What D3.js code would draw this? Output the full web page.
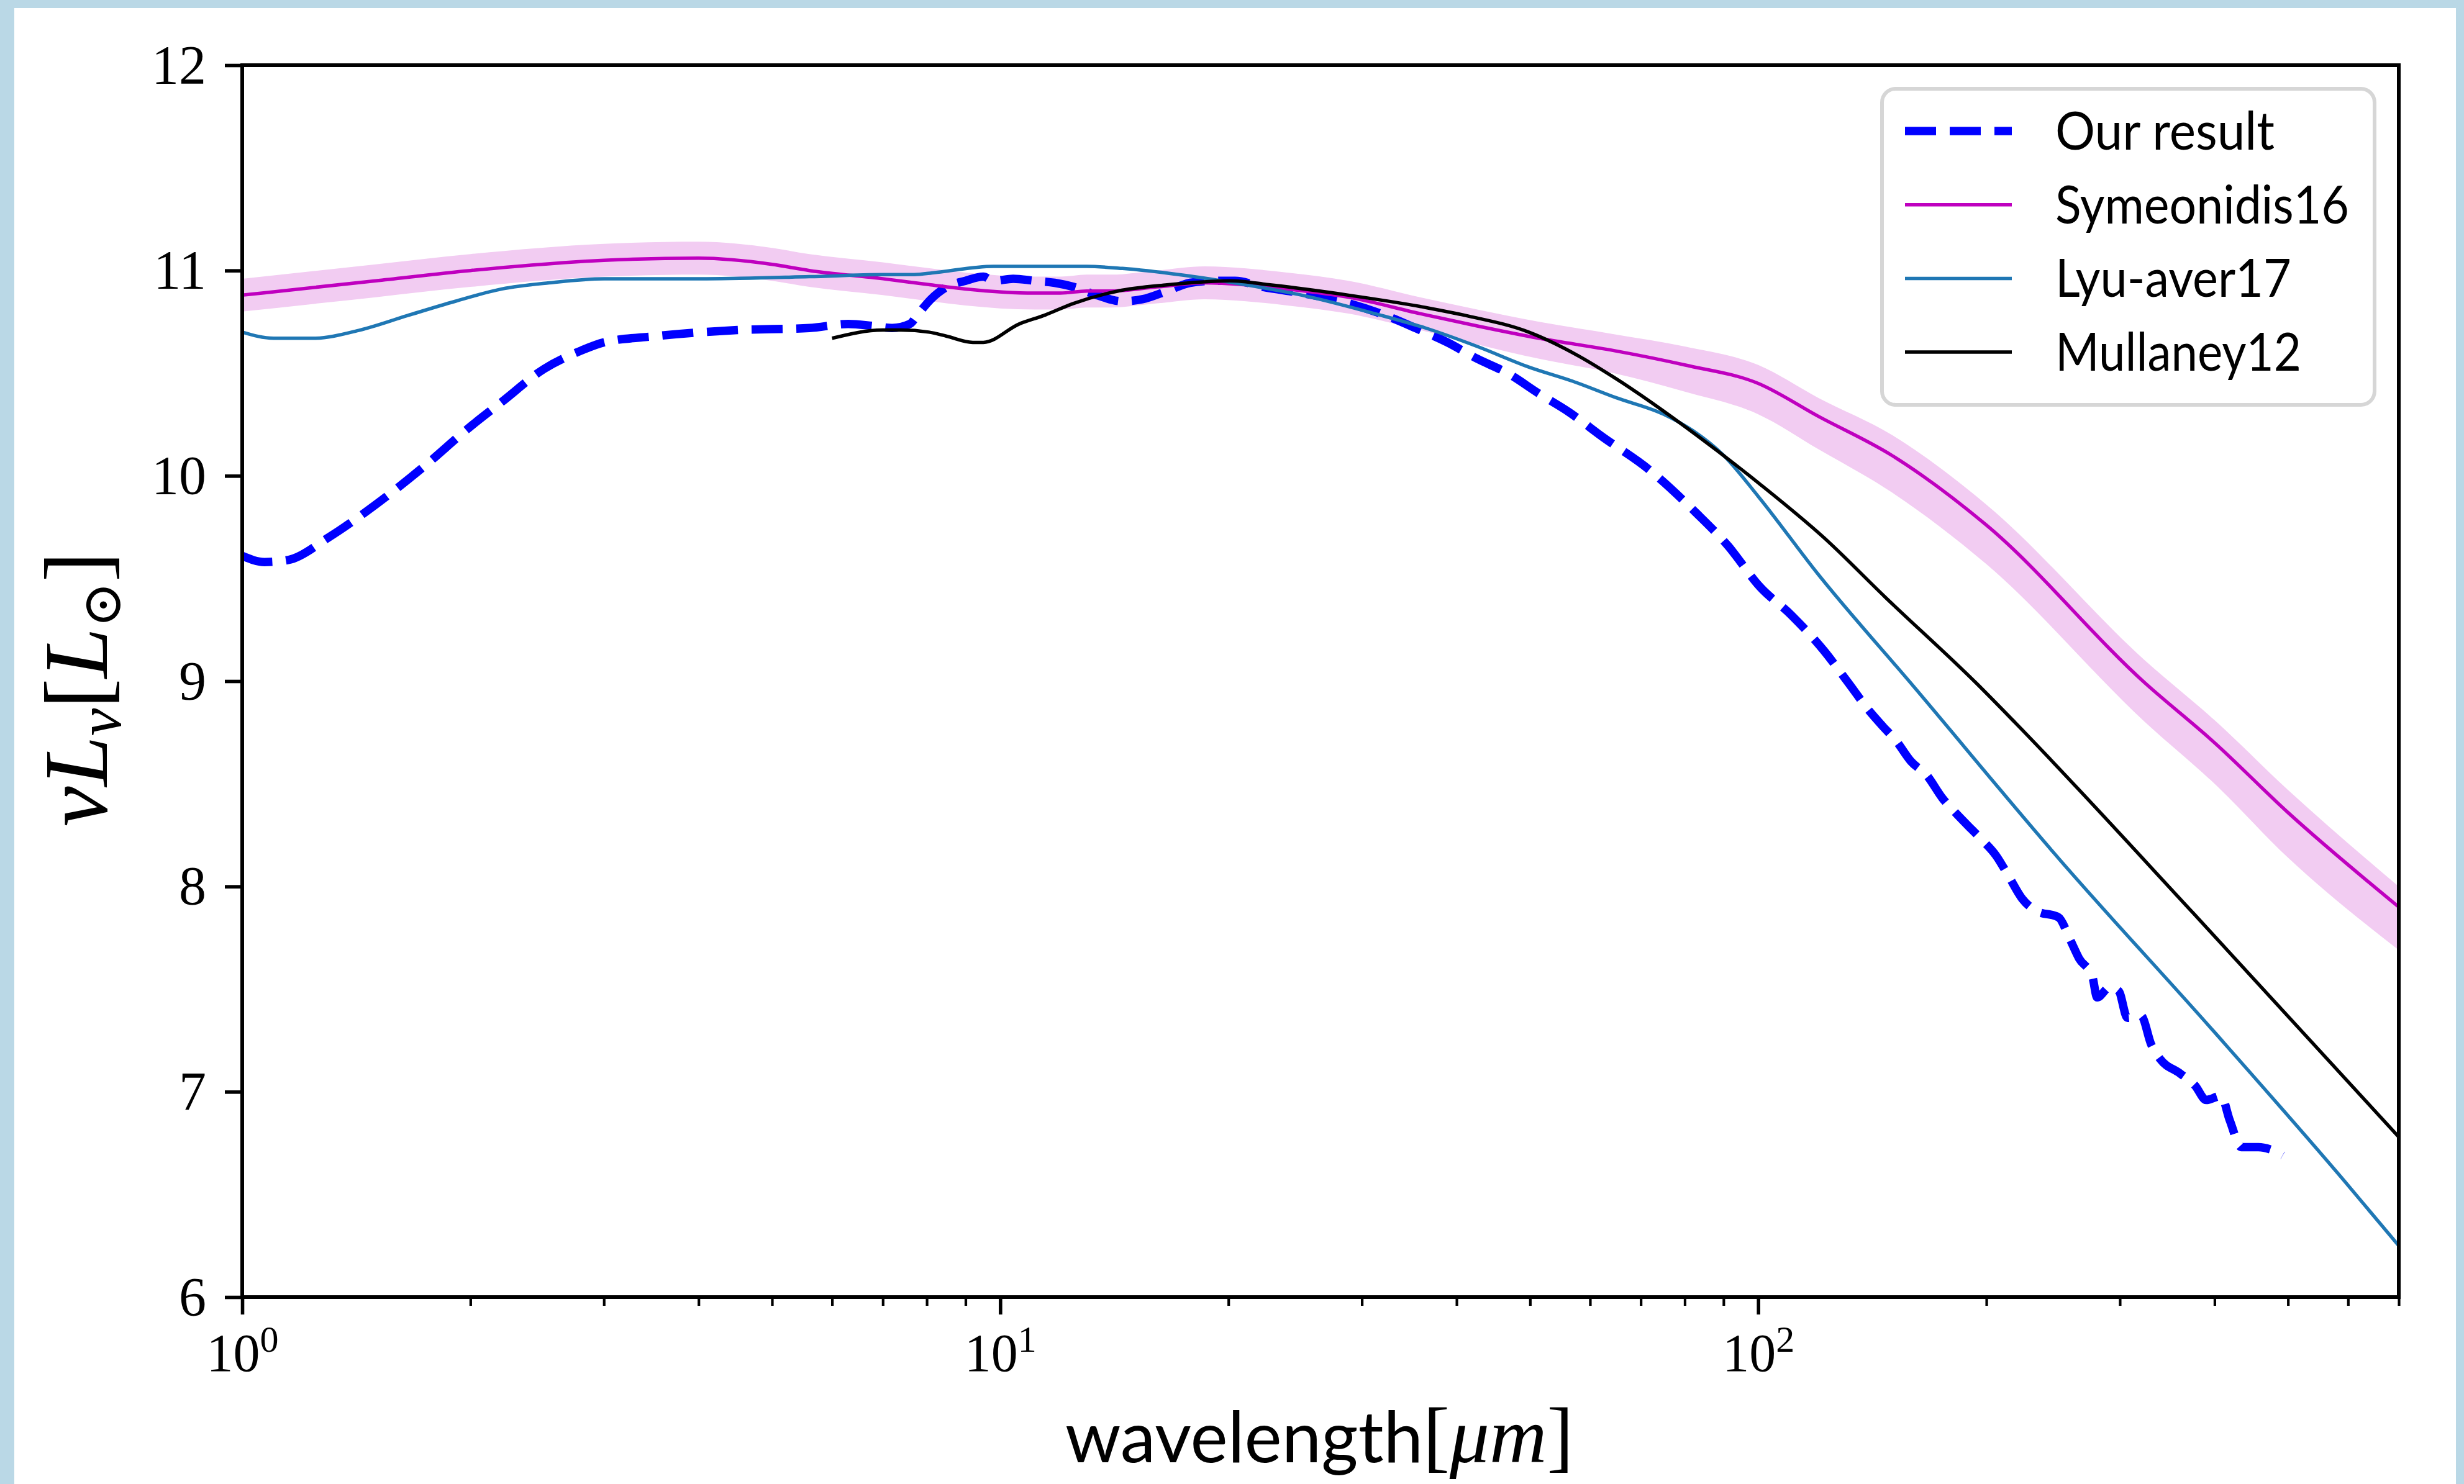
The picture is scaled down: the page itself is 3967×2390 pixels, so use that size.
<!DOCTYPE html>
<html>
<head>
<meta charset="utf-8">
<script src="https://cdn.jsdelivr.net/npm/d3@7"></script>
<style>
  html, body { margin: 0; padding: 0; background: #bad8e6; }
  svg { display: block; }
</style>
</head>
<body>
<div id="chart"></div>
<script>
// --- data (wavelength in micron, log10 luminosity) ---
const ourWl = [1.0, 1.07, 1.15, 1.3, 1.5, 1.73, 2.0, 2.2, 2.5, 2.8, 3.0, 3.5, 4.5, 5.6, 6.3, 6.8, 7.2, 7.6, 7.8, 8.1, 8.5, 9.0, 9.5, 9.8, 10.4, 11.1, 11.8, 12.5, 13.4, 14.5, 15.4, 16.6, 17.8, 19.1, 20.4, 22.2, 25.0, 28.2, 32.3, 35.3, 38.9, 42.6, 46.7, 51.4, 56.3, 62.3, 71.8, 82.8, 91.2, 100.5, 110.7, 122, 131, 140.5, 146, 152, 159, 167, 175, 182, 191, 197, 206, 214, 223, 233, 249, 258, 265, 276, 280, 291, 299, 307, 320, 330, 339, 360, 377, 390, 408, 419, 434, 457, 473, 492];
const ourLum = [9.61, 9.58, 9.59, 9.70, 9.86, 10.04, 10.24, 10.36, 10.52, 10.61, 10.65, 10.68, 10.71, 10.72, 10.74, 10.73, 10.72, 10.74, 10.79, 10.86, 10.92, 10.95, 10.97, 10.95, 10.96, 10.95, 10.94, 10.92, 10.88, 10.85, 10.86, 10.90, 10.94, 10.95, 10.95, 10.92, 10.89, 10.85, 10.78, 10.72, 10.65, 10.57, 10.50, 10.40, 10.31, 10.19, 10.03, 9.82, 9.66, 9.46, 9.32, 9.15, 9.00, 8.85, 8.78, 8.71, 8.61, 8.54, 8.43, 8.36, 8.28, 8.23, 8.15, 8.05, 7.94, 7.88, 7.85, 7.74, 7.65, 7.56, 7.46, 7.51, 7.49, 7.36, 7.37, 7.23, 7.16, 7.09, 7.03, 6.96, 6.98, 6.86, 6.73, 6.73, 6.72, 6.69];

const symWl = [1.0, 1.5, 2.0, 3.0, 4.0, 5.0, 5.6, 7.0, 8.1, 9.0, 11.1, 12.0, 13.0, 14.0, 16.1, 18.6, 21.1, 23.9, 28.8, 35.8, 42.6, 51.4, 64.5, 80, 100, 120, 150, 200, 324, 400, 500, 700];
const symLum = [10.88, 10.95, 11.00, 11.05, 11.06, 11.03, 11.00, 10.96, 10.93, 10.91, 10.89, 10.89, 10.90, 10.90, 10.92, 10.94, 10.93, 10.91, 10.87, 10.79, 10.73, 10.67, 10.61, 10.54, 10.45, 10.29, 10.10, 9.76, 8.99, 8.70, 8.36, 7.90];
const symUpper = [10.96, 11.03, 11.08, 11.13, 11.14, 11.11, 11.08, 11.04, 11.01, 10.99, 10.97, 10.97, 10.98, 10.98, 11.00, 11.02, 11.01, 10.99, 10.95, 10.87, 10.81, 10.75, 10.69, 10.63, 10.54, 10.38, 10.20, 9.86, 9.10, 8.81, 8.47, 8.00];
const symLower = [10.80, 10.87, 10.92, 10.97, 10.98, 10.95, 10.92, 10.88, 10.85, 10.83, 10.81, 10.81, 10.82, 10.82, 10.84, 10.86, 10.85, 10.83, 10.79, 10.71, 10.64, 10.57, 10.50, 10.41, 10.30, 10.13, 9.92, 9.57, 8.80, 8.50, 8.14, 7.69];

const lyuWl = [1.0, 1.1, 1.24, 1.43, 1.65, 1.91, 2.2, 2.54, 3.0, 4.1, 5.6, 7.0, 7.7, 8.2, 9.8, 13.0, 14.5, 17.2, 21.1, 25.0, 31.2, 36.4, 42.6, 49.8, 57, 65, 75, 82, 90, 100, 120, 159, 250, 400, 592, 700];
const lyuLum = [10.70, 10.67, 10.67, 10.71, 10.78, 10.85, 10.91, 10.94, 10.96, 10.96, 10.97, 10.98, 10.98, 10.99, 11.02, 11.02, 11.01, 10.98, 10.93, 10.88, 10.79, 10.72, 10.63, 10.53, 10.46, 10.38, 10.30, 10.22, 10.10, 9.90, 9.52, 8.99, 8.13, 7.29, 6.57, 6.25];

const mulWl = [6.0, 7.0, 7.4, 8.05, 8.5, 9.2, 9.5, 10.6, 11.4, 12.5, 14.3, 16.6, 20.1, 22.7, 28.8, 36.4, 41.2, 49.8, 58.2, 64.5, 82.8, 100.5, 122, 147, 194, 218, 375, 700];
const mulLum = [10.67, 10.71, 10.71, 10.70, 10.68, 10.65, 10.65, 10.74, 10.78, 10.84, 10.90, 10.93, 10.95, 10.93, 10.88, 10.82, 10.78, 10.70, 10.58, 10.48, 10.20, 9.96, 9.70, 9.41, 8.99, 8.80, 7.87, 6.78];

const yTicks = [6, 7, 8, 9, 10, 11, 12];
const xMajor = [1, 10, 100];
const xMajorExp = ['0', '1', '2'];
const xMinor = [2, 3, 4, 5, 6, 7, 8, 9, 20, 30, 40, 50, 60, 70, 80, 90, 200, 300, 400, 500, 600, 700];

const legendNames = ['Our result', 'Symeonidis16', 'Lyu-aver17', 'Mullaney12'];

// --- layout ---
const W = 3967, H = 2390;
const pL = 390, pR = 3862, pT = 105, pB = 2089;
const serif = '"Liberation Serif", "DejaVu Serif", serif';
const sans = 'Lato, "Open Sans", sans-serif';

const svg = d3.select('#chart').append('svg')
    .attr('width', W).attr('height', H);

svg.append('rect').attr('x', 0).attr('y', 0).attr('width', W).attr('height', H).attr('fill', '#bad8e6');
svg.append('rect').attr('x', 23).attr('y', 13).attr('width', 3954 - 23).attr('height', H - 13).attr('fill', '#fff');

const x = d3.scaleLog().domain([1, 700]).range([pL, pR]);
const y = d3.scaleLinear().domain([6, 12]).range([pB, pT]);

svg.append('clipPath').attr('id', 'plotclip')
    .append('rect').attr('x', pL).attr('y', pT)
    .attr('width', pR - pL).attr('height', pB - pT);

const plot = svg.append('g').attr('clip-path', 'url(#plotclip)');

// uncertainty band of Symeonidis16
const band = symWl.map((w, i) => ({ w, lo: symLower[i], hi: symUpper[i] }));
plot.append('path')
    .datum(band)
    .attr('fill', '#f2ccf2')
    .attr('d', d3.area().curve(d3.curveMonotoneX)
        .x(d => x(d.w)).y0(d => y(d.lo)).y1(d => y(d.hi)));

const line = d3.line().curve(d3.curveMonotoneX).x(d => x(d[0])).y(d => y(d[1]));
const zip = (a, b) => a.map((v, i) => [v, b[i]]);

plot.append('path').datum(zip(ourWl, ourLum))
    .attr('fill', 'none').attr('stroke', '#0000ff').attr('stroke-width', 13.5)
    .attr('stroke-dasharray', '50,22').attr('d', line);

plot.append('path').datum(zip(symWl, symLum))
    .attr('fill', 'none').attr('stroke', '#bf00bf').attr('stroke-width', 5.5)
    .attr('stroke-linejoin', 'round').attr('d', line);

plot.append('path').datum(zip(lyuWl, lyuLum))
    .attr('fill', 'none').attr('stroke', '#1f77b4').attr('stroke-width', 5.5)
    .attr('stroke-linejoin', 'round').attr('d', line);

plot.append('path').datum(zip(mulWl, mulLum))
    .attr('fill', 'none').attr('stroke', '#000').attr('stroke-width', 5.5)
    .attr('stroke-linejoin', 'round').attr('d', line);

// --- axes ---
const yAxis = svg.append('g').attr('transform', `translate(${pL},0)`)
    .call(d3.axisLeft(y).tickValues(yTicks).tickSize(28).tickPadding(30).tickFormat(d3.format('d')));
yAxis.select('.domain').remove();
yAxis.selectAll('line').attr('stroke', '#000').attr('stroke-width', 5.6);
yAxis.selectAll('text').attr('font-family', serif).attr('font-size', 88).attr('fill', '#000');

const xMinorAxis = svg.append('g').attr('transform', `translate(0,${pB})`)
    .call(d3.axisBottom(x).tickValues(xMinor).tickSize(14).tickFormat(''));
xMinorAxis.select('.domain').remove();
xMinorAxis.selectAll('line').attr('stroke', '#000').attr('stroke-width', 4.2);

const xAxis = svg.append('g').attr('transform', `translate(0,${pB})`)
    .call(d3.axisBottom(x).tickValues(xMajor).tickSize(28).tickPadding(0).tickFormat(''));
xAxis.select('.domain').remove();
xAxis.selectAll('line').attr('stroke', '#000').attr('stroke-width', 5.6);
xAxis.selectAll('.tick').each(function(d, i) {
    const t = d3.select(this).append('text')
        .attr('y', 119).attr('text-anchor', 'middle')
        .attr('font-family', serif).attr('font-size', 86).attr('fill', '#000');
    t.append('tspan').text('10');
    t.append('tspan').attr('font-size', 60).attr('dy', -31).text(xMajorExp[i]);
});

// spines
svg.append('rect')
    .attr('x', pL).attr('y', pT).attr('width', pR - pL).attr('height', pB - pT)
    .attr('fill', 'none').attr('stroke', '#000').attr('stroke-width', 6);

// axis labels
const xl = svg.append('text')
    .attr('x', 2124).attr('y', 2355).attr('text-anchor', 'middle')
    .attr('font-family', serif).attr('font-size', 128).attr('fill', '#000');
xl.append('tspan').attr('font-family', sans).attr('font-size', 114).text('wavelength');
xl.append('tspan').text('[');
xl.append('tspan').attr('font-style', 'italic').text('μm');
xl.append('tspan').text(']');

const yl = svg.append('text')
    .attr('transform', 'translate(172,1110) rotate(-90)')
    .attr('text-anchor', 'middle')
    .attr('font-family', serif).attr('font-size', 146).attr('fill', '#000');
yl.append('tspan').attr('font-style', 'italic').text('νL');
yl.append('tspan').attr('font-style', 'italic').attr('font-size', 100).attr('dy', 22).text('ν');
yl.append('tspan').attr('dy', -22).text('[');
yl.append('tspan').attr('font-style', 'italic').text('L');
yl.append('tspan').attr('font-size', 88).attr('dy', 22).text('⊙');
yl.append('tspan').attr('dy', -22).text(']');

// --- legend ---
const leg = svg.append('g');
leg.append('rect')
    .attr('x', 3030).attr('y', 143).attr('width', 793).attr('height', 509)
    .attr('rx', 22).attr('ry', 22)
    .attr('fill', '#fff').attr('fill-opacity', 0.8)
    .attr('stroke', '#d6d6d6').attr('stroke-width', 6);

const legStyles = [
    { color: '#0000ff', width: 13.5, dash: '50,22' },
    { color: '#bf00bf', width: 5.5, dash: null },
    { color: '#1f77b4', width: 5.5, dash: null },
    { color: '#000', width: 5.5, dash: null }
];
const legWidths = [353, 473, 380, 396];

legendNames.forEach((name, i) => {
    const ry = 211 + i * 118.7;
    const s = legStyles[i];
    leg.append('line')
        .attr('x1', 3067).attr('x2', 3239).attr('y1', ry).attr('y2', ry)
        .attr('stroke', s.color).attr('stroke-width', s.width)
        .attr('stroke-dasharray', s.dash);
    leg.append('text')
        .attr('x', 3309).attr('y', ry + 30)
        .attr('font-family', sans).attr('font-size', 86).attr('fill', '#000')
        .attr('textLength', legWidths[i]).attr('lengthAdjust', 'spacingAndGlyphs')
        .text(name);
});
</script>
</body>
</html>
